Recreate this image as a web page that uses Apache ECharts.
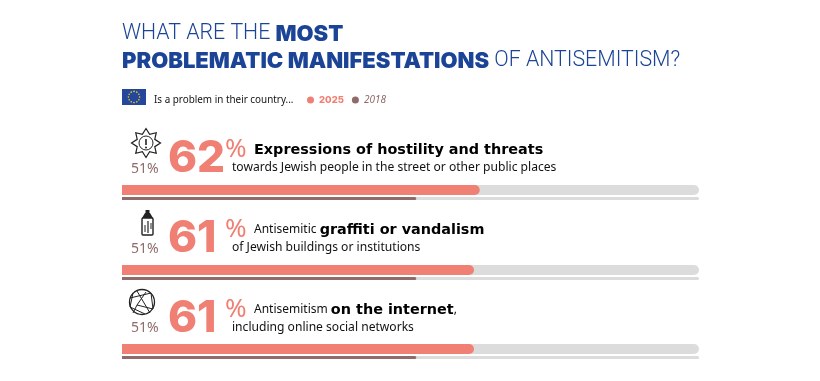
<!DOCTYPE html>
<html>
<head>
<meta charset="utf-8">
<style>
html,body{margin:0;padding:0;background:#fff}
#main{width:820px;height:381px}
</style>
<script src="https://cdn.jsdelivr.net/npm/echarts@6/dist/echarts.min.js"></script>
</head>
<body>
<div id="main"></div>
<script>
var values2025 = [62, 61, 61];
var values2018 = [51, 51, 51];
var yearNames = ['2025', '2018'];
var headParts = [
	['Expressions of hostility and threats', ''],
	['Antisemitic ', 'graffiti or vandalism'],
	['Antisemitism ', 'on the internet', ',']
];
var subLines = [
	'towards Jewish people in the street or other public places',
	'of Jewish buildings or institutions',
	'including online social networks'
];

var CORAL = '#f08073', BROWN = '#8f6b69', GREY = '#dcdcdc', BLUE = '#1b4496';
var FONT = '"Noto Sans"';
var LIGHT = 'Roboto';
var HEAVY = 'Inter';
var WIDE = '"DejaVu Sans"';

var grids = [], xAxes = [], yAxes = [], series = [], graphics = [];

function addBar(name, value, color, top, height, radius){
	var idx = grids.length;
	grids.push({left: 122, width: 577, top: top, height: height});
	xAxes.push({type: 'value', gridIndex: idx, min: 0, max: 100, show: false});
	yAxes.push({type: 'category', gridIndex: idx, data: [name], show: false});
	series.push({
		name: name,
		type: 'bar',
		xAxisIndex: idx,
		yAxisIndex: idx,
		barWidth: height,
		data: [value],
		silent: true,
		itemStyle: {color: color, borderRadius: [0, radius, radius, 0]},
		showBackground: true,
		backgroundStyle: {color: GREY, borderRadius: radius}
	});
}

function txt(x, y, text, size, color, weight, family){
	graphics.push({
		type: 'text', left: x, top: y, silent: true,
		style: {text: text, fontSize: size, fill: color, fontWeight: weight || 400, fontFamily: family || FONT}
	});
}

// title
var titleRich = {
	l: {fontSize: 21.3, fontFamily: LIGHT, fontWeight: 300, fill: BLUE, lineHeight: 17},
	b: {fontSize: 22, fontFamily: HEAVY, fontWeight: 900, fill: BLUE, lineHeight: 17}
};
graphics.push({
	type: 'text', left: 122, top: 23, silent: true,
	style: {rich: titleRich, text: '{l|WHAT ARE THE }{b|MOST}'}
});
graphics.push({
	type: 'text', left: 122, top: 50, silent: true,
	style: {rich: titleRich, text: '{b|PROBLEMATIC MANIFESTATIONS}{l| OF ANTISEMITISM?}'}
});

// flag
graphics.push({type: 'rect', silent: true, shape: {x: 122, y: 89, width: 24, height: 16}, style: {fill: '#24479c'}});
for(var s=0;s<12;s++){
	var a = s * Math.PI / 6;
	graphics.push({type: 'circle', silent: true, shape: {cx: 134 + 5.6*Math.cos(a), cy: 97 + 5.6*Math.sin(a), r: 0.8}, style: {fill: '#f2d21d'}});
}
txt(154, 95, 'Is a problem in their country...', 9.9, '#111');

// rows
var rowTops = [185, 265, 344];
var rowText = [[137, 143, 162], [217, 223, 242], [297, 303, 322]];
for(var i=0;i<3;i++){
	addBar(yearNames[0], values2025[i], CORAL, rowTops[i], 10, 5);
	addBar(yearNames[1], values2018[i], BROWN, rowTops[i] + 12, 3, 1.5);
	txt(168, rowText[i][0], String(values2025[i]), 44, CORAL, 800, HEAVY);
	txt(225, rowText[i][0], '%', 26, CORAL, 400);
	txt(131, rowTops[i] - 23, values2018[i] + '%', 14, BROWN, 400);
	graphics.push({
		type: 'text', left: 254, top: rowText[i][1], silent: true,
		style: {
			rich: {
				n: {fontSize: 12, fontFamily: FONT, fill: '#111'},
				h: {fontSize: 14.4, fontFamily: WIDE, fontWeight: 700, fill: '#000'}
			},
			text: i == 0 ? '{h|' + headParts[0][0] + '}'
				: '{n|' + headParts[i][0] + '}{h|' + headParts[i][1] + '}' + (headParts[i][2] ? '{n|' + headParts[i][2] + '}' : '')
		}
	});
	txt(232, rowText[i][2], subLines[i], 12.1, '#111');
}

// star icon
var starPts = [];
for(var p=0;p<16;p++){
	var r = p % 2 ? 9.5 : 14.5;
	var ang = -Math.PI/2 + p * Math.PI / 8;
	starPts.push([146 + r*Math.cos(ang), 143 + r*Math.sin(ang)]);
}
graphics.push({type: 'polygon', silent: true, shape: {points: starPts}, style: {fill: 'none', stroke: '#222', lineWidth: 1.2}});
graphics.push({type: 'circle', silent: true, shape: {cx: 146, cy: 143, r: 7}, style: {fill: 'none', stroke: '#222', lineWidth: 1}});
graphics.push({type: 'line', silent: true, shape: {x1: 146, y1: 139, x2: 146, y2: 145}, style: {stroke: '#222', lineWidth: 1.6}});
graphics.push({type: 'circle', silent: true, shape: {cx: 146, cy: 147.5, r: 1}, style: {fill: '#222'}});

// spray can icon
graphics.push({type: 'rect', silent: true, shape: {x: 142, y: 218, width: 11, height: 17, r: 1}, style: {fill: 'none', stroke: '#222', lineWidth: 1.4}});
graphics.push({type: 'polygon', silent: true, shape: {points: [[142,218],[145,213],[150,213],[153,218]]}, style: {fill: '#222'}});
graphics.push({type: 'rect', silent: true, shape: {x: 145.5, y: 210, width: 4, height: 3}, style: {fill: '#222'}});
graphics.push({type: 'line', silent: true, shape: {x1: 148, y1: 221, x2: 148, y2: 233}, style: {stroke: '#222', lineWidth: 1.2}});
graphics.push({type: 'line', silent: true, shape: {x1: 145, y1: 225, x2: 145, y2: 232}, style: {stroke: '#222', lineWidth: 1}});
graphics.push({type: 'line', silent: true, shape: {x1: 151, y1: 223, x2: 151, y2: 229}, style: {stroke: '#222', lineWidth: 1}});

// globe icon
graphics.push({type: 'circle', silent: true, shape: {cx: 142, cy: 302, r: 12.5}, style: {fill: 'none', stroke: '#222', lineWidth: 1.3}});
var globeLines = [[130,298,151,293],[133,293,130,307],[151,293,153,309],[137,291,150,313],[130,307,145,314],[137,305,153,309],[137,305,146,292],[137,305,133,313]];
globeLines.forEach(function(l){
	graphics.push({type: 'line', silent: true, shape: {x1: l[0], y1: l[1], x2: l[2], y2: l[3]}, style: {stroke: '#222', lineWidth: 1}});
});

var myChart = echarts.init(document.getElementById('main'), null, {renderer: 'canvas'});
myChart.setOption({
	animation: false,
	backgroundColor: '#fff',
	tooltip: {show: false},
	legend: {
		left: 302,
		top: 90,
		itemWidth: 7,
		itemHeight: 7,
		itemGap: 8,
		icon: 'circle',
		silent: true,
		selectedMode: false,
		data: [
			{name: yearNames[0], itemStyle: {color: CORAL}, textStyle: {color: CORAL, fontWeight: 800, fontSize: 9.5, fontFamily: HEAVY}},
			{name: yearNames[1], itemStyle: {color: BROWN}, textStyle: {color: BROWN, fontStyle: 'italic', fontSize: 10, fontFamily: FONT}}
		]
	},
	grid: grids,
	xAxis: xAxes,
	yAxis: yAxes,
	series: series,
	graphic: graphics
});
</script>
</body>
</html>
